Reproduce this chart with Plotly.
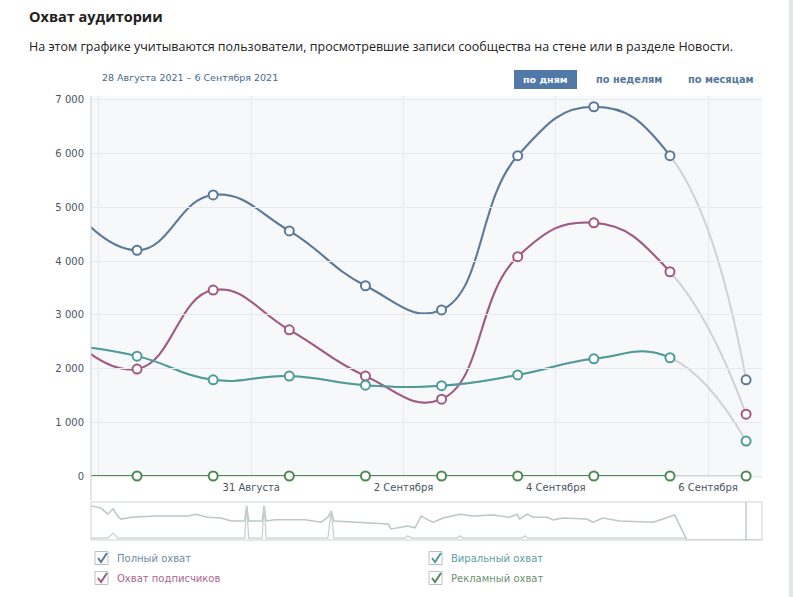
import plotly.graph_objects as go
import pandas as pd

# ---------------- data ----------------
dates = ["2021-08-28 12:00", "2021-08-29 12:00", "2021-08-30 12:00", "2021-08-31 12:00",
         "2021-09-01 12:00", "2021-09-02 12:00", "2021-09-03 12:00", "2021-09-04 12:00",
         "2021-09-05 12:00", "2021-09-06 12:00"]
full_reach = [5250, 4200, 5230, 4560, 3540, 3090, 5960, 6870, 5960, 1790]
subs_reach = [2750, 1990, 3460, 2720, 1860, 1430, 4080, 4710, 3800, 1150]
viral_reach = [2450, 2230, 1790, 1860, 1690, 1680, 1880, 2180, 2200, 650]
ad_reach = [0, 0, 0, 0, 0, 0, 0, 0, 0, 0]

series_names = ["Полный охват", "Охват подписчиков", "Виральный охват", "Рекламный охват"]

y_ticks = [0, 1000, 2000, 3000, 4000, 5000, 6000, 7000]
y_tick_text = ["0", "1 000", "2 000", "3 000", "4 000", "5 000", "6 000", "7 000"]
x_tick_dates = ["2021-08-29", "2021-08-31", "2021-09-02", "2021-09-04", "2021-09-06"]
x_tick_text = ["", "31 Августа", "2 Сентября", "4 Сентября", "6 Сентября"]

# navigator (overview of the whole history, % of period)
nav_t_top = [0, 1.5, 2.5, 3.3, 4.0, 4.5, 6.0, 9.5, 14.5, 15.6, 17.4, 19.4, 20.9, 22.9, 23.2, 23.5,
             25.5, 25.8, 26.1, 27.4, 31.9, 34.3, 35.3, 35.8, 36.2, 39.3, 43.2, 44.3, 44.7, 46.2,
             47.2, 48.3, 49.2, 50.2, 51.0, 52.5, 55.0, 56.9, 59.9, 62.4, 63.5, 63.9, 65.0, 65.9,
             68.0, 68.9, 70.3, 73.9, 74.8, 76.3, 78.8, 83.8, 85.8, 87.0, 87.5, 88.2, 88.8, 100]
nav_v_top = [90, 84, 68, 82, 62, 55, 60, 63, 63, 68, 60, 58, 50, 50, 90, 50,
             50, 90, 50, 53, 53, 47, 60, 76, 50, 47, 42, 42, 29, 34,
             37, 32, 63, 53, 47, 58, 68, 63, 66, 60, 68, 55, 68, 60,
             60, 53, 58, 55, 47, 58, 50, 47, 58, 66, 47, 21, 0, 0]
nav_t_bot = [0, 2.5, 3.3, 4.0, 8.8, 22.9, 23.2, 23.5, 25.5, 25.8, 26.1, 35.3, 35.8, 36.2,
             46.8, 47.2, 47.8, 54.5, 55.0, 55.4, 64.2, 64.7, 65.1, 88.5, 88.8, 100]
nav_v_bot = [5, 5, 18, 5, 5, 5, 90, 5, 5, 90, 5, 5, 76, 5,
             5, 11, 5, 5, 11, 5, 5, 11, 5, 5, 0, 0]

# ---------------- styles / geometry ----------------
colors = ["#5a7a99", "#a25884", "#4e9b9b", "#4f8a55"]
text_colors = ["#6f8aa6", "#a8668c", "#5e9e9e", "#6b9270"]
gray = "#cfd3d8"
W, H = 794, 597
L, R, T, B = 91, 762, 96, 540
MAIN_BOTTOM = 478
SMOOTH = 1.3


def px(x):
    return (x - L) / (R - L)


def py(y):
    return (B - y) / (B - T)


r0 = pd.Timestamp("2021-08-28 21:29")
r1 = pd.Timestamp("2021-09-06 17:01")
t5 = pd.Timestamp(dates[-2])
f5 = (t5 - r0) / (r1 - r0)

fig = go.Figure()
values = [full_reach, subs_reach, viral_reach, ad_reach]

# gray (incomplete) lines, full extent
for v in values:
    fig.add_trace(go.Scatter(x=dates, y=v, mode="lines", xaxis="x", yaxis="y",
                             line=dict(color=gray, width=2, shape="spline", smoothing=SMOOTH),
                             hoverinfo="skip", showlegend=False))
# coloured lines, clipped at the last complete day
for v, c, n in zip(values, colors, series_names):
    fig.add_trace(go.Scatter(x=dates, y=v, mode="lines", xaxis="x2", yaxis="y", name=n,
                             line=dict(color=c, width=2, shape="spline", smoothing=SMOOTH),
                             showlegend=False))
# markers
for v, c in zip(values, colors):
    fig.add_trace(go.Scatter(x=dates[1:], y=v[1:], mode="markers", xaxis="x3", yaxis="y",
                             marker=dict(size=9, color="white", line=dict(color=c, width=2)),
                             cliponaxis=False, hoverinfo="skip", showlegend=False))
# navigator
fig.add_trace(go.Scatter(x=nav_t_top, y=nav_v_top, mode="lines", xaxis="x4", yaxis="y2",
                         line=dict(color="#bcc8c6", width=1.5), hoverinfo="skip", showlegend=False))
fig.add_trace(go.Scatter(x=nav_t_bot, y=nav_v_bot, mode="lines", xaxis="x4", yaxis="y2",
                         line=dict(color="#c6d0ce", width=1.2), hoverinfo="skip", showlegend=False))

axis_font = dict(family="DejaVu Sans", size=10, color="#4a5563")
main_dom = [py(MAIN_BOTTOM), 1]

shapes = [
    dict(type="rect", xref="paper", yref="paper", x0=0, x1=1, y0=main_dom[0], y1=1,
         fillcolor="#f7f8fa", line=dict(width=0), layer="below"),
    dict(type="line", xref="paper", yref="paper", x0=0, x1=0, y0=py(500), y1=1,
         line=dict(color="#c9ced4", width=1)),
    dict(type="rect", xref="paper", yref="paper", x0=px(91), x1=px(762), y0=py(540), y1=py(502),
         line=dict(color="#cdd2d7", width=1)),
    dict(type="line", xref="paper", yref="paper", x0=px(746), x1=px(746), y0=py(540), y1=py(502),
         line=dict(color="#aab1b8", width=1)),
    dict(type="rect", xref="paper", yref="paper", x0=px(789), x1=px(793), y0=py(597), y1=py(0),
         fillcolor="#e3e5e8", line=dict(width=0)),
    dict(type="rect", xref="paper", yref="paper", x0=px(514), x1=px(577), y0=py(89), y1=py(70),
         fillcolor="#5079a8", line=dict(width=0)),
]

annotations = [
    dict(text="<b>Охват аудитории</b>", x=px(27), y=py(16), xanchor="left", yanchor="middle",
         font=dict(family="Open Sans", size=14.5, color="#222222")),
    dict(text="На этом графике учитываются пользователи, просмотревшие записи сообщества на стене или в разделе Новости.",
         x=px(27), y=py(46), xanchor="left", yanchor="middle",
         font=dict(family="Open Sans", size=12.5, color="#222222")),
    dict(text="28 Августа 2021 – 6 Сентября 2021", x=px(100), y=py(78), xanchor="left", yanchor="middle",
         font=dict(family="DejaVu Sans", size=9.5, color="#45688e")),
    dict(text="<b>по дням</b>", x=px(545.5), y=py(79.5), xanchor="center", yanchor="middle",
         font=dict(family="DejaVu Sans", size=9.5, color="white")),
    dict(text="<b>по неделям</b>", x=px(628.5), y=py(79.5), xanchor="center", yanchor="middle",
         font=dict(family="DejaVu Sans", size=9.8, color="#55779c")),
    dict(text="<b>по месяцам</b>", x=px(720.5), y=py(79.5), xanchor="center", yanchor="middle",
         font=dict(family="DejaVu Sans", size=9.8, color="#55779c")),
]

legend_pos = [(95, 558), (95, 578), (429, 558), (429, 578)]
for (bx, by), n, c, tc in zip(legend_pos, series_names, colors, text_colors):
    shapes.append(dict(type="rect", xref="paper", yref="paper", x0=px(bx), x1=px(bx + 13),
                       y0=py(by + 6.5), y1=py(by - 6.5), fillcolor="white",
                       line=dict(color="#b9c1ca", width=1)))
    path = "M {:.5f} {:.5f} L {:.5f} {:.5f} L {:.5f} {:.5f}".format(
        px(bx + 3), py(by), px(bx + 6), py(by + 4), px(bx + 12), py(by - 5))
    shapes.append(dict(type="path", xref="paper", yref="paper", path=path,
                       line=dict(color=c, width=2)))
    annotations.append(dict(text=n, x=px(bx + 20), y=py(by), xanchor="left", yanchor="middle",
                            font=dict(family="DejaVu Sans", size=10, color=tc)))

for a in annotations:
    a.update(xref="paper", yref="paper", showarrow=False)

fig.update_layout(
    width=W, height=H,
    margin=dict(l=L, r=W - R, t=T, b=H - B),
    paper_bgcolor="white", plot_bgcolor="rgba(0,0,0,0)",
    showlegend=False,
    xaxis=dict(domain=[0, 1], anchor="y", type="date", range=[r0, r1],
               tickvals=x_tick_dates, ticktext=x_tick_text, showgrid=True,
               gridcolor="#e6e9ee", gridwidth=1, showline=False, zeroline=False,
               ticks="", tickfont=axis_font, ticklabelstandoff=2),
    xaxis2=dict(domain=[0, f5], anchor="y", type="date", range=[r0, t5], visible=False),
    xaxis3=dict(domain=[0, 1], anchor="y", type="date", range=[r0, r1], visible=False),
    xaxis4=dict(domain=[0, 1], anchor="y2", range=[0, 100], visible=False),
    yaxis=dict(domain=main_dom, anchor="x", range=[-37, 7070], tickvals=y_ticks,
               ticktext=y_tick_text, showgrid=True, gridcolor="#e6e9ee", gridwidth=1,
               zeroline=False, showline=False, ticks="", tickfont=axis_font,
               ticklabelstandoff=6),
    yaxis2=dict(domain=[0, py(502)], anchor="x4", range=[0, 100], visible=False),
    shapes=shapes, annotations=annotations,
)

fig.write_html("out.html")
